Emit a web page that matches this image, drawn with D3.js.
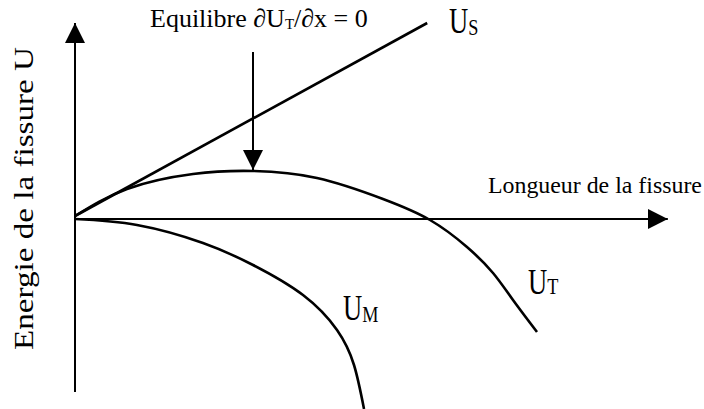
<!DOCTYPE html>
<html>
<head>
<meta charset="utf-8">
<script src="https://cdn.jsdelivr.net/npm/d3@7"></script>
<style>
  body { margin: 0; background: #fff; }
</style>
</head>
<body>
<svg id="chart" width="704" height="409"></svg>
<script>
const width = 704
const height = 409
const serif = 'Liberation Serif'

// crack length (x) / energy (y), arbitrary units
const surfaceX = [0, 58.7]
const surfaceY = [1.5, 98]

const totalX = [0, 8.67, 19.67, 29.67, 40.33, 51.33, 59.17, 65.33, 69.67, 73, 77]
const totalY = [1.5, 15, 22.5, 24, 20.5, 10, -0.5, -14, -27, -40.5, -56.5]

const elasticX = [0, 10.33, 21.33, 29.67, 38, 43.67, 46.5, 48.17]
const elasticY = [0, -3, -12, -23, -38, -55.5, -73, -95]

const equilibriumX = 29.67
const equilibriumY = [83.5, 24.5]

const axisX = [0, 98.8]
const axisY = [-86.5, 98]

const curveNames = ['U', 'U', 'U']
const curveSubs = ['S', 'T', 'M']

const svg = d3.select('#chart')

const x = d3.scaleLinear().domain([0, 100]).range([75, 675])
const y = d3.scaleLinear().domain([-95, 100]).range([height, 19])

/* arrow heads */
const defs = svg.append('defs')
defs
  .append('marker')
  .attr('id', 'head')
  .attr('viewBox', '0 0 20 20')
  .attr('refX', 20)
  .attr('refY', 10)
  .attr('markerWidth', 20)
  .attr('markerHeight', 20)
  .attr('markerUnits', 'userSpaceOnUse')
  .attr('orient', 'auto')
  .append('path')
  .attr('d', 'M0,0 L20,10 L0,20 Z')
  .attr('fill', '#000')

/* axes */
svg
  .append('line')
  .attr('x1', x(0))
  .attr('x2', x(0))
  .attr('y1', y(axisY[0]))
  .attr('y2', y(axisY[1]))
  .attr('stroke', '#000')
  .attr('stroke-width', 2)
  .attr('marker-end', 'url(#head)')

svg
  .append('line')
  .attr('x1', x(axisX[0]))
  .attr('x2', x(axisX[1]))
  .attr('y1', y(0))
  .attr('y2', y(0))
  .attr('stroke', '#000')
  .attr('stroke-width', 2)
  .attr('marker-end', 'url(#head)')

/* curves */
const line = d3
  .line()
  .x((d) => x(d[0]))
  .y((d) => y(d[1]))
  .curve(d3.curveNatural)

const series = [
  [surfaceX, surfaceY],
  [totalX, totalY],
  [elasticX, elasticY],
]

series.forEach(([xs, ys]) => {
  svg
    .append('path')
    .datum(xs.map((v, i) => [v, ys[i]]))
    .attr('fill', 'none')
    .attr('stroke', '#000')
    .attr('stroke-width', 2.6)
    .attr('d', line)
})

/* equilibrium arrow */
svg
  .append('line')
  .attr('x1', x(equilibriumX))
  .attr('x2', x(equilibriumX))
  .attr('y1', y(equilibriumY[0]))
  .attr('y2', y(equilibriumY[1]))
  .attr('stroke', '#000')
  .attr('stroke-width', 2)
  .attr('marker-end', 'url(#head)')

/* texts */
const eq = svg
  .append('text')
  .attr('x', x(12.5))
  .attr('y', y(96))
  .attr('font-family', serif)
  .attr('font-size', 26)
eq.append('tspan').text('Equilibre \u2202U')
eq.append('tspan').attr('font-size', 15).attr('dy', 2).text('T')
eq.append('tspan').attr('dy', -2).text('/\u2202x = 0')

svg
  .append('text')
  .attr('x', x(68.83))
  .attr('y', y(13))
  .attr('font-family', serif)
  .attr('font-size', 22.5)
  .attr('textLength', 214)
  .attr('lengthAdjust', 'spacingAndGlyphs')
  .text('Longueur de la fissure')

svg
  .append('text')
  .attr('transform', `translate(33, 198.5) rotate(-90)`)
  .attr('text-anchor', 'middle')
  .attr('font-family', serif)
  .attr('font-size', 27)
  .attr('textLength', 303)
  .attr('lengthAdjust', 'spacingAndGlyphs')
  .text('Energie de la fissure U')

const labelPos = [
  [62.33, 93, 2],
  [75.5, -37.5, 0],
  [44.67, -50.5, 2],
]
curveNames.forEach((name, i) => {
  const [lx, ly, shift] = labelPos[i]
  const t = svg
    .append('text')
    .attr('transform', `translate(${x(lx)}, ${y(ly)}) scale(0.76, 1)`)
    .attr('font-family', serif)
    .attr('font-size', 35)
  t.append('tspan').text(name)
  t.append('tspan').attr('font-size', 24).attr('dy', shift).text(curveSubs[i])
})
</script>
</body>
</html>
